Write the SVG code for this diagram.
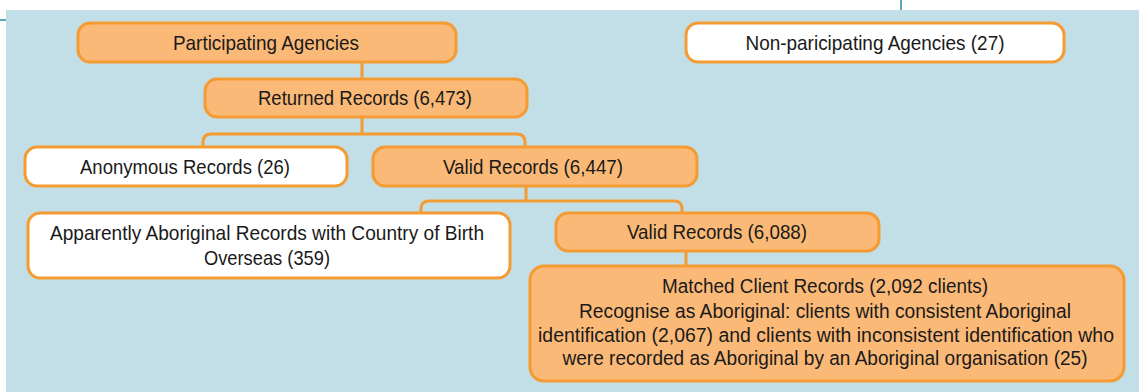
<svg xmlns="http://www.w3.org/2000/svg" width="1139" height="392" viewBox="0 0 1139 392">
<style>
.bg{fill:#c2dfe7}
.o{fill:#fbb977;stroke:#f59b33;stroke-width:3}
.w{fill:#ffffff;stroke:#f59b33;stroke-width:3}
.c{fill:none;stroke:#f59b33;stroke-width:3}
text{font-family:"Liberation Sans",Arial,sans-serif;font-size:21px;fill:#1a1a1a;text-anchor:middle}
.s{font-size:19.5px}
</style>
<rect x="0" y="0" width="1139" height="392" fill="#ffffff"/>
<rect class="bg" x="6" y="10" width="1133" height="382"/>
<line x1="0" y1="20" x2="6" y2="20" stroke="#2a8ba0" stroke-width="1.5"/>
<line x1="901" y1="0" x2="901" y2="10" stroke="#2a8ba0" stroke-width="1.5"/>
<g id="connectors">
<path class="c" d="M362 62V79"/>
<path class="c" d="M362 117V134"/>
<path class="c" d="M203 147V142Q203 134 211 134H517Q525 134 525 142V147"/>
<path class="c" d="M526 186V201"/>
<path class="c" d="M421 213V209Q421 201 429 201H674Q682 201 682 209V213"/>
<path class="c" d="M686 251V266"/>
</g>
<g id="participating">
<rect class="o" x="78" y="23" width="378" height="39" rx="12"/>
<text x="266" y="50" textLength="186" lengthAdjust="spacingAndGlyphs">Participating Agencies</text>
</g>
<g id="nonparticipating">
<rect class="w" x="686" y="23" width="378" height="39" rx="12"/>
<text x="875" y="50" textLength="259" lengthAdjust="spacingAndGlyphs">Non-paricipating Agencies (27)</text>
</g>
<g id="returned">
<rect class="o" x="205" y="79" width="322" height="38" rx="12"/>
<text x="365" y="105" textLength="214" lengthAdjust="spacingAndGlyphs">Returned Records (6,473)</text>
</g>
<g id="anonymous">
<rect class="w" x="25" y="147" width="322" height="39" rx="12"/>
<text x="185" y="174" textLength="210" lengthAdjust="spacingAndGlyphs">Anonymous Records (26)</text>
</g>
<g id="valid6447">
<rect class="o" x="373" y="147" width="324" height="39" rx="12"/>
<text x="533" y="174" textLength="180" lengthAdjust="spacingAndGlyphs">Valid Records (6,447)</text>
</g>
<g id="apparently">
<rect class="w" x="28" y="213" width="482" height="65" rx="12"/>
<text x="267" y="240" textLength="434" lengthAdjust="spacingAndGlyphs">Apparently Aboriginal Records with Country of Birth</text>
<text x="267" y="265" textLength="126" lengthAdjust="spacingAndGlyphs">Overseas (359)</text>
</g>
<g id="valid6088">
<rect class="o" x="556" y="213" width="323" height="38" rx="12"/>
<text x="717" y="239" textLength="180" lengthAdjust="spacingAndGlyphs">Valid Records (6,088)</text>
</g>
<g id="matched">
<rect class="o" x="530" y="266" width="594" height="115" rx="14"/>
<text class="s" x="825" y="293" textLength="326" lengthAdjust="spacingAndGlyphs">Matched Client Records (2,092 clients)</text>
<text class="s" x="825" y="318" textLength="492" lengthAdjust="spacingAndGlyphs">Recognise as Aboriginal: clients with consistent Aboriginal</text>
<text class="s" x="826" y="342" textLength="576" lengthAdjust="spacingAndGlyphs">identification (2,067) and clients with inconsistent identification who</text>
<text class="s" x="825" y="365" textLength="525" lengthAdjust="spacingAndGlyphs">were recorded as Aboriginal by an Aboriginal organisation (25)</text>
</g>
</svg>
